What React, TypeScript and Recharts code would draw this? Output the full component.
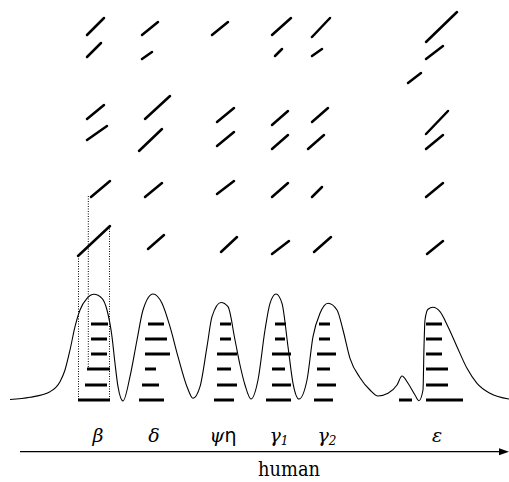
import React from 'react';
import { ComposedChart, Line, Scatter, XAxis, YAxis, ReferenceLine } from 'recharts';

// Profile curve (position along the locus vs. signal, figure units; y grows downward)
const curveX = [10, 30, 50, 60, 65, 70, 75, 80, 87, 94, 102, 107, 112, 115, 118, 123, 130, 137, 143, 153, 162, 170, 178, 187, 193, 200, 207, 212, 221, 228, 235, 240, 245, 251, 258, 265, 270, 276, 282, 288, 293, 299, 307, 313, 320, 328, 337, 343, 350, 360, 370, 378, 388, 397, 402, 408, 415, 419, 423, 424, 425, 428, 433, 440, 448, 457, 467, 477, 490, 509];
const curveY = [399.5, 397.3, 391.7, 381.7, 370, 350, 326.7, 310, 298.3, 294.3, 298.3, 310, 336.7, 363.3, 386.7, 401, 376.7, 340, 310, 294, 303.3, 326.7, 356.7, 386.7, 398.3, 386.7, 346.7, 316.7, 302.5, 306.7, 340, 365, 385, 399, 380, 330, 303.3, 294, 303.3, 346.7, 383.3, 399, 380, 336.7, 313.3, 303.3, 310, 330, 358.3, 377.7, 390, 396, 393.3, 385, 376, 383.3, 395, 400.7, 390, 346.7, 320, 309.3, 307.3, 311.7, 326.7, 346.7, 368.3, 383.3, 393.3, 399];

// Band rows (levels) and [start, end] per row for each peak
const bandRows = [324, 339, 354, 369, 385, 400];
const betaBands = [[91, 108], [91, 107], [91, 107], [87, 110], [85, 107], [78, 110]];
const deltaBands = [[148, 164], [145, 167], [145, 170], [145, 156], [142, 159], [139, 164]];
const psiEtaBands = [[220, 231], [220, 231], [217, 237], [217, 231], [217, 237], [214, 234]];
const gamma1Bands = [[275, 286], [275, 285], [272, 291], [272, 285], [272, 291], [266, 291]];
const gamma2Bands = [[319, 330], [319, 330], [317, 336], [317, 330], [317, 336], [314, 333]];
const epsilonBands = [[426, 442], [426, 442], [426, 442], [426, 448], [426, 448], [426, 463]];
const extraBands = [[399, 412, 400]];

// Diagonal segments: [x1, y1, x2, y2]
const betaSlashes = [[87, 35, 104, 18], [87, 57, 101, 43], [87, 119, 104, 105], [87, 140, 107, 126], [91, 197, 110, 181], [78, 256, 110, 226]];
const deltaSlashes = [[142, 35, 158, 22], [142, 59, 152, 52], [145, 119, 170, 96], [139, 151, 162, 129], [145, 197, 162, 183], [148, 249, 164, 235]];
const psiEtaSlashes = [[212, 35, 228, 22], [217, 122, 234, 108], [217, 146, 234, 132], [217, 194, 234, 181], [221, 252, 237, 237]];
const gamma1Slashes = [[272, 35, 291, 18], [275, 56, 282, 49], [272, 125, 288, 111], [272, 149, 288, 135], [272, 197, 288, 183], [272, 254, 289, 241]];
const gamma2Slashes = [[312, 37, 330, 18], [312, 56, 322, 49], [312, 122, 328, 108], [308, 149, 324, 135], [312, 197, 322, 187], [314, 252, 331, 237]];
const epsilonSlashes = [[426, 42, 457, 12], [426, 59, 443, 46], [408, 83, 421, 73], [426, 134, 448, 111], [426, 149, 443, 135], [426, 197, 443, 183], [427, 254, 443, 241]];

// Dotted guides: [x, yTop, yBottom]
const dottedGuides = [[78.5, 256, 400], [88.3, 196, 369], [109.5, 226, 400]];

// Labels
const labelNames = ['β', 'δ', 'ψη', 'γ1', 'γ2', 'ε'];
const labelX = [98, 154, 223, 279, 327, 437];
const labelY = 442;
const axisY = 451.7;
const axisStart = 20;
const axisEnd = 509;
const titleText = 'human';
const titleX = 289;
const titleY = 476;

const curveData = curveX.map((x, i) => ({ x, y: curveY[i] }));
const allBands = [betaBands, deltaBands, psiEtaBands, gamma1Bands, gamma2Bands, epsilonBands];
const allSlashes = [betaSlashes, deltaSlashes, psiEtaSlashes, gamma1Slashes, gamma2Slashes, epsilonSlashes];
const labelData = labelNames.map((name, i) => ({ x: labelX[i], y: labelY, name }));

const SERIF = 'DejaVu Serif';

function renderLabel(props: any) {
  const { cx, cy, payload } = props;
  const name: string = payload.name;
  let content: React.ReactNode;
  if (name === 'ψη') {
    content = (
      <>
        <tspan fontStyle="italic">ψ</tspan>
        <tspan fontFamily="DejaVu Sans" fontSize={19}>η</tspan>
      </>
    );
  } else if (name.startsWith('γ')) {
    content = (
      <>
        <tspan fontStyle="italic">γ</tspan>
        <tspan fontStyle="italic" fontSize={12} dy={3}>{name.slice(1)}</tspan>
      </>
    );
  } else {
    content = <tspan fontStyle="italic">{name}</tspan>;
  }
  return (
    <text x={cx} y={cy} textAnchor="middle" fontFamily={SERIF} fontSize={19} fill="#000">
      {content}
    </text>
  );
}

function renderArrowHead(props: any) {
  const { cx, cy } = props;
  return <polygon points={`${cx},${cy} ${cx - 10},${cy - 3.5} ${cx - 10},${cy + 3.5}`} fill="#000" />;
}

function renderTitle(props: any) {
  const { cx, cy } = props;
  return (
    <text
      x={cx}
      y={cy}
      textAnchor="middle"
      fontFamily={SERIF}
      fontSize={20}
      textLength={62}
      lengthAdjust="spacingAndGlyphs"
      fill="#000"
    >
      {titleText}
    </text>
  );
}

export default function App() {
  return (
    <div style={{ position: 'absolute', left: 0, top: 0, background: '#fff' }}>
      <ComposedChart width={509} height={482} margin={{ top: 0, right: 0, bottom: 0, left: 0 }}>
        <XAxis type="number" dataKey="x" domain={[0, 509]} hide />
        <YAxis type="number" dataKey="y" domain={[0, 482]} reversed hide />

        {/* dotted guides */}
        {dottedGuides.map(([x, y1, y2], i) => (
          <ReferenceLine
            key={`g${i}`}
            segment={[{ x, y: y1 }, { x, y: y2 }]}
            stroke="#000"
            strokeWidth={1}
            strokeDasharray="1 1.5"
            ifOverflow="visible"
          />
        ))}

        {/* horizontal bands */}
        {allBands.map((bands, g) =>
          bands.map(([a, b], r) => (
            <ReferenceLine
              key={`b${g}-${r}`}
              segment={[{ x: a, y: bandRows[r] }, { x: b, y: bandRows[r] }]}
              stroke="#000"
              strokeWidth={3}
              ifOverflow="visible"
            />
          ))
        )}
        {extraBands.map(([a, b, y], i) => (
          <ReferenceLine
            key={`e${i}`}
            segment={[{ x: a, y }, { x: b, y }]}
            stroke="#000"
            strokeWidth={3}
            ifOverflow="visible"
          />
        ))}

        {/* diagonal segments */}
        {allSlashes.map((slashes, g) =>
          slashes.map(([x1, y1, x2, y2], r) => (
            <ReferenceLine
              key={`s${g}-${r}`}
              segment={[{ x: x1, y: y1 }, { x: x2, y: y2 }]}
              stroke="#000"
              strokeWidth={2.5}
              strokeLinecap="round"
              ifOverflow="visible"
            />
          ))
        )}

        <Line
          data={curveData}
          dataKey="y"
          type="monotone"
          stroke="#000"
          strokeWidth={1.1}
          dot={false}
          activeDot={false}
          isAnimationActive={false}
        />

        {/* axis arrow */}
        <ReferenceLine
          segment={[{ x: axisStart, y: axisY }, { x: axisEnd - 8, y: axisY }]}
          stroke="#000"
          strokeWidth={1.2}
          ifOverflow="visible"
        />
        <Scatter data={[{ x: axisEnd, y: axisY }]} shape={renderArrowHead} isAnimationActive={false} />
        <Scatter data={labelData} shape={renderLabel} isAnimationActive={false} />
        <Scatter data={[{ x: titleX, y: titleY }]} shape={renderTitle} isAnimationActive={false} />
      </ComposedChart>
    </div>
  );
}
